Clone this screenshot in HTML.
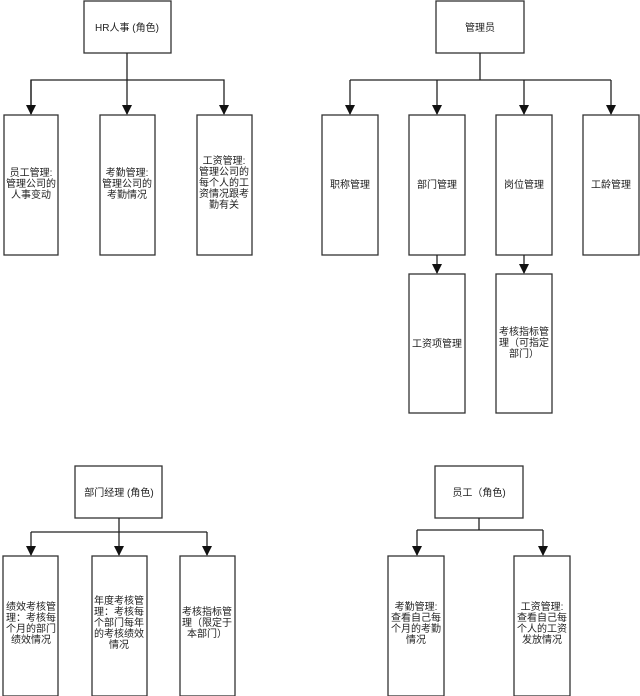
<!DOCTYPE html>
<html><head><meta charset="utf-8"><style>
html,body{margin:0;padding:0;background:#fff;}
svg{display:block}
text{font-family:"Liberation Sans","Noto Sans CJK SC",sans-serif;font-size:10px;fill:#222;text-anchor:middle;}
rect{fill:#fff;stroke:#333;stroke-width:1.3}
line,polyline{stroke:#222;stroke-width:1.3;fill:none}
path.a{fill:#111;stroke:none}
</style></head><body>
<svg width="640" height="696" viewBox="0 0 640 696" xmlns="http://www.w3.org/2000/svg">
<defs><marker id="ar" viewBox="0 0 10 10" refX="9" refY="5" markerWidth="10" markerHeight="10" markerUnits="userSpaceOnUse" orient="auto"><path d="M0,0 L10,5 L0,10 z" fill="#111"/></marker></defs>

<!-- HR -->
<rect x="84" y="1" width="87" height="52"/>
<text x="127" y="31">HR人事 (角色)</text>
<line x1="127" y1="53" x2="127" y2="80"/>
<polyline points="31,114 31,80 224,80 224,114" marker-end="url(#ar)"/>
<line x1="31" y1="80" x2="31" y2="114" marker-end="url(#ar)"/>
<line x1="127" y1="80" x2="127" y2="114" marker-end="url(#ar)"/>
<rect x="4" y="115" width="54" height="140"/>
<text x="31" y="176">员工管理:</text><text x="31" y="187">管理公司的</text><text x="31" y="198">人事变动</text>
<rect x="100" y="115" width="55" height="140"/>
<text x="127" y="176">考勤管理:</text><text x="127" y="187">管理公司的</text><text x="127" y="198">考勤情况</text>
<rect x="197" y="115" width="55" height="140"/>
<text x="224" y="164">工资管理:</text><text x="224" y="175">管理公司的</text><text x="224" y="186">每个人的工</text><text x="224" y="197">资情况跟考</text><text x="224" y="208">勤有关</text>

<!-- Admin -->
<rect x="436" y="1" width="88" height="52"/>
<text x="480" y="31">管理员</text>
<line x1="480" y1="53" x2="480" y2="80"/>
<line x1="350" y1="80" x2="611" y2="80"/>
<line x1="350" y1="80" x2="350" y2="114" marker-end="url(#ar)"/>
<line x1="437" y1="80" x2="437" y2="114" marker-end="url(#ar)"/>
<line x1="524" y1="80" x2="524" y2="114" marker-end="url(#ar)"/>
<line x1="611" y1="80" x2="611" y2="114" marker-end="url(#ar)"/>
<rect x="322" y="115" width="56" height="140"/><text x="350" y="188">职称管理</text>
<rect x="409" y="115" width="56" height="140"/><text x="437" y="188">部门管理</text>
<rect x="496" y="115" width="56" height="140"/><text x="524" y="188">岗位管理</text>
<rect x="583" y="115" width="56" height="140"/><text x="611" y="188">工龄管理</text>
<line x1="437" y1="255" x2="437" y2="273" marker-end="url(#ar)"/>
<line x1="524" y1="255" x2="524" y2="273" marker-end="url(#ar)"/>
<rect x="409" y="274" width="56" height="139"/><text x="437" y="347">工资项管理</text>
<rect x="496" y="274" width="56" height="139"/>
<text x="524" y="335">考核指标管</text><text x="524" y="346">理（可指定</text><text x="524" y="357">部门）</text>

<!-- Dept manager -->
<rect x="75" y="466" width="87" height="52"/>
<text x="119" y="496">部门经理 (角色)</text>
<line x1="119" y1="518" x2="119" y2="532"/>
<line x1="31" y1="532" x2="207" y2="532"/>
<line x1="31" y1="532" x2="31" y2="555" marker-end="url(#ar)"/>
<line x1="119" y1="532" x2="119" y2="555" marker-end="url(#ar)"/>
<line x1="207" y1="532" x2="207" y2="555" marker-end="url(#ar)"/>
<rect x="3" y="556" width="55" height="140"/>
<text x="31" y="610">绩效考核管</text><text x="31" y="621">理：考核每</text><text x="31" y="632">个月的部门</text><text x="31" y="643">绩效情况</text>
<rect x="92" y="556" width="55" height="140"/>
<text x="119" y="604">年度考核管</text><text x="119" y="615">理：考核每</text><text x="119" y="626">个部门每年</text><text x="119" y="637">的考核绩效</text><text x="119" y="648">情况</text>
<rect x="180" y="556" width="55" height="140"/>
<text x="207" y="615">考核指标管</text><text x="207" y="626">理（限定于</text><text x="207" y="637">本部门）</text>

<!-- Employee -->
<rect x="435" y="466" width="88" height="52"/>
<text x="479" y="496">员工（角色)</text>
<line x1="479" y1="518" x2="479" y2="530"/>
<line x1="417" y1="530" x2="543" y2="530"/>
<line x1="417" y1="530" x2="417" y2="555" marker-end="url(#ar)"/>
<line x1="543" y1="530" x2="543" y2="555" marker-end="url(#ar)"/>
<rect x="388" y="556" width="56" height="140"/>
<text x="416" y="610">考勤管理:</text><text x="416" y="621">查看自己每</text><text x="416" y="632">个月的考勤</text><text x="416" y="643">情况</text>
<rect x="514" y="556" width="56" height="140"/>
<text x="542" y="610">工资管理:</text><text x="542" y="621">查看自己每</text><text x="542" y="632">个人的工资</text><text x="542" y="643">发放情况</text>
</svg>
</body></html>
